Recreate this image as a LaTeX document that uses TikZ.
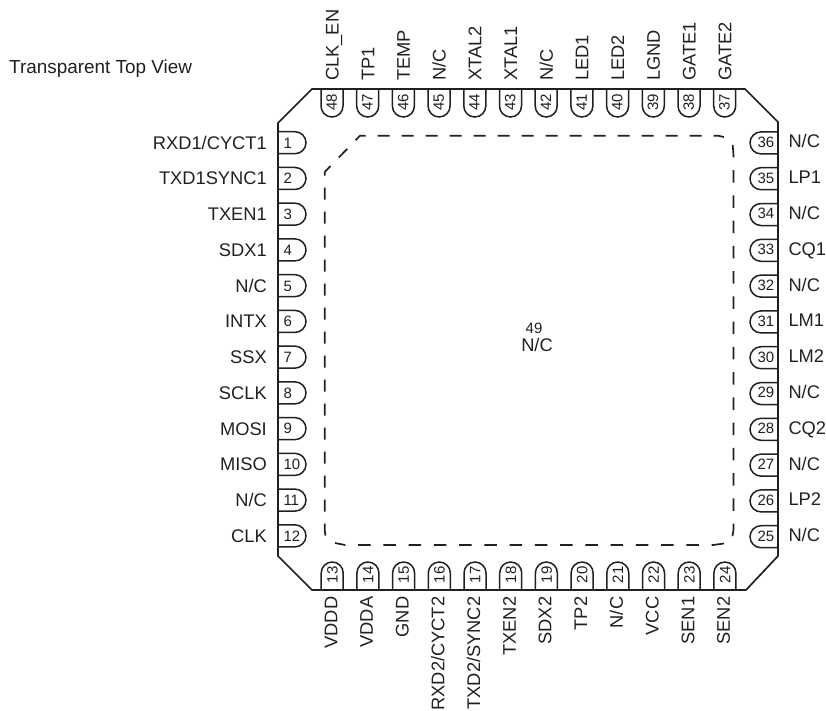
\documentclass[tikz,border=0pt]{standalone}
\usepackage{fontspec}
\setmainfont{Liberation Sans}
\usepackage{xcolor}
\definecolor{mainDark}{HTML}{231F20}
\usetikzlibrary{positioning}
\tikzset{%
  pinText/.style={%
    font=\fontsize{18.3}{20}\selectfont,
    text=mainDark,
    text height=13.1pt,
    text depth=0pt,
    inner sep=0pt
  },
  titleText/.style={%
    pinText,
    font=\fontsize{18.9}{20}\selectfont
  },
  pinNumber/.style={%
    font=\fontsize{15}{17}\selectfont,
    text=mainDark,
    text height=10.7pt,
    text depth=0pt,
    inner sep=0pt
  },
  pinLine/.style={%
    draw=mainDark,
    line width=1.5pt
  },
  bodyLine/.style={%
    draw=mainDark,
    line width=1.7pt,
    line join=miter
  },
  padShort/.style={%
    draw=mainDark,
    line width=1.7pt,
    dash pattern=on 12pt off 12pt
  },
  padLong/.style={%
    draw=mainDark,
    line width=1.7pt,
    dash pattern=on 12.5pt off 12.75pt
  },
  pinShape/.pic={%
    \draw[pinLine] (-11,0) -- (-11,17) arc (180:0:11) -- (11,0);
  }
}

\begin{document}
\begin{tikzpicture}[x=1pt,y=-1pt]
  \useasboundingbox (0,0) rectangle (826,710);

  \node[titleText, anchor=west] (viewTitle) at (9,67) {Transparent Top View};

  % package outline
  \draw[bodyLine] (278,123) -- (312,89) -- (745,89) -- (778,122) -- (778,556)
    -- (746,590) -- (312,590) -- (278,556) -- cycle;

  % exposed pad, one path per side
  \draw[padShort, dash phase=3.7pt] (324.7,172) -- (360,135.7) -- (718,135.7) -- (724,137);
  \draw[padLong] (732.7,145) -- (733.5,155) -- (733.5,530) -- (732.3,537);
  \draw[padLong] (724,543.5) -- (713,545) -- (345,545) -- (335,543);
  \draw[padShort, dash phase=8.4pt] (324.7,172) -- (324.7,530) -- (325.5,536);

  \node[pinNumber] (padNumber) at (534,328) {49};
  \node[pinText, below=5pt of padNumber, xshift=3pt] (padLabel) {N/C};

  % left side
  \foreach \lab [count=\i] in {RXD1/CYCT1,TXD1SYNC1,TXEN1,SDX1,N/C,INTX,SSX,SCLK,MOSI,MISO,N/C,CLK}{
    \pgfmathsetmacro{\py}{142.7+35.74*(\i-1)}
    \pic[rotate=90] at (278,\py) {pinShape};
    \node[pinNumber, anchor=west] (num\i) at (283.3,\py) {\i};
    \node[pinText, anchor=east] (lab\i) at (267,\py) {\lab};
  }

  % bottom side
  \foreach \lab [count=\i from 13] in {VDDD,VDDA,GND,RXD2/CYCT2,TXD2/SYNC2,TXEN2,SDX2,TP2,N/C,VCC,SEN1,SEN2}{
    \pgfmathsetmacro{\px}{332.2+35.7*(\i-13)}
    \pic[rotate=180] at (\px,590) {pinShape};
    \node[pinNumber, rotate=90, anchor=west] (num\i) at (\px,583.3) {\i};
    \node[pinText, rotate=90, anchor=east] (lab\i) at (\px-1.5,596.5) {\lab};
  }

  % right side
  \foreach \lab [count=\i from 25] in {N/C,LP2,N/C,CQ2,N/C,LM2,LM1,N/C,CQ1,N/C,LP1,N/C}{
    \pgfmathsetmacro{\py}{536.7-35.8*(\i-25)}
    \pic[rotate=-90] at (778,\py) {pinShape};
    \node[pinNumber, anchor=east] (num\i) at (774.5,\py-1) {\i};
    \node[pinText, anchor=west] (lab\i) at (788.3,\py-1.5) {\lab};
  }

  % top side
  \foreach \lab [count=\i from 37] in {GATE2,GATE1,LGND,LED2,LED1,N/C,XTAL1,XTAL2,N/C,TEMP,TP1,CLK\_EN}{
    \pgfmathsetmacro{\px}{724.7-35.7*(\i-37)}
    \pic at (\px,89) {pinShape};
    \node[pinNumber, rotate=90, anchor=west] (num\i) at (\px-0.5,110.7) {\i};
    \node[pinText, rotate=90, anchor=west] (lab\i) at (\px,81) {\lab};
  }
\end{tikzpicture}
\end{document}
